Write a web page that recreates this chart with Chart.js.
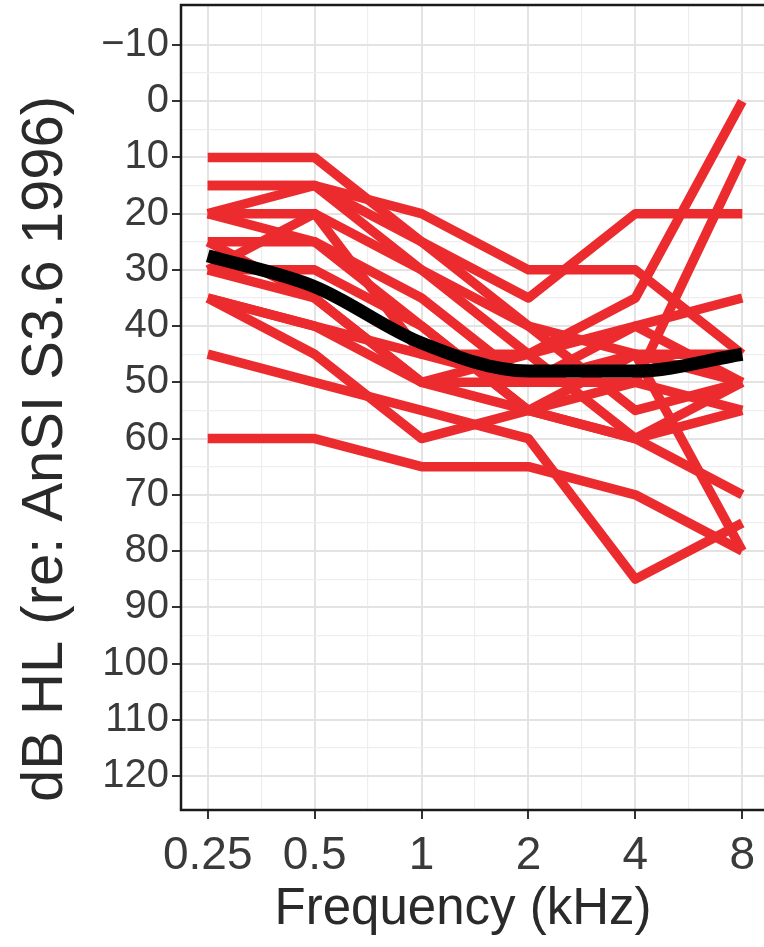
<!DOCTYPE html>
<html>
<head>
<meta charset="utf-8">
<script src="https://cdn.jsdelivr.net/npm/chart.js@4/dist/chart.umd.min.js"></script>
<style>
  html, body { margin: 0; padding: 0; background: #fff; overflow: hidden; }
  #wrap { width: 772px; height: 947px; }
</style>
</head>
<body>
<div id="wrap"><canvas id="audiogram" width="772" height="947"></canvas></div>
<script>
// Audiometric test frequencies (kHz), one octave apart
const freqLabels = ['0.25', '0.5', '1', '2', '4', '8'];
const octaveIndex = [0, 1, 2, 3, 4, 5];

// Hearing thresholds (dB HL) of individual listeners, per frequency
const listener01 = [10, 10, 25, 40, 55, 50];
const listener02 = [15, 15, 20, 30, 30, 45];
const listener03 = [15, 15, 25, 35, 20, 20];
const listener04 = [20, 15, 30, 45, 35, 0];
const listener05 = [25, 25, 35, 50, 50, 10];
const listener06 = [20, 25, 40, 55, 45, 80];
const listener07 = [30, 20, 45, 45, 60, 50];
const listener08 = [35, 40, 50, 45, 40, 35];
const listener09 = [35, 45, 60, 55, 60, 70];
const listener10 = [45, 50, 55, 60, 85, 75];
const listener11 = [60, 60, 65, 65, 70, 80];
const listener12 = [30, 35, 50, 55, 60, 55];
const listener13 = [35, 40, 45, 50, 45, 45];
const listener14 = [25, 35, 50, 50, 40, 50];
const listener15 = [30, 30, 40, 55, 50, 55];
const listener16 = [20, 20, 30, 40, 45, 50];

// Group mean threshold
const meanThreshold = [27.5, 33, 43, 48, 48, 45];

// Y axis ticks (dB HL), labelled every 10 dB with minor lines every 5 dB
const yTickValues = [];
for (let v = -10; v <= 120; v += 5) yTickValues.push(v);

const yAxisTitle = 'dB HL (re: AnSI S3.6 1996)';
const xAxisTitle = 'Frequency (kHz)';

const listeners = [listener01, listener02, listener03, listener04, listener05, listener06, listener07,
  listener08, listener09, listener10, listener11, listener12, listener13, listener14, listener15, listener16];

const toPoints = arr => octaveIndex.map((x, i) => ({ x: x, y: arr[i] }));

const RED = '#EC2B2E';
const FONT = "'Liberation Sans', Arial, Helvetica, sans-serif";

const datasets = [{
  label: 'Mean',
  data: toPoints(meanThreshold),
  borderColor: '#000000',
  borderWidth: 13,
  cubicInterpolationMode: 'monotone',
  pointRadius: 0,
  borderCapStyle: 'butt',
  borderJoinStyle: 'round',
  order: 0
}].concat(listeners.map((arr, k) => ({
  label: 'Listener ' + (k + 1),
  data: toPoints(arr),
  borderColor: RED,
  borderWidth: 9.5,
  tension: 0,
  pointRadius: 0,
  borderCapStyle: 'butt',
  borderJoinStyle: 'round',
  order: 1
})));

// Panel border around the plotting area, plus both axis titles
const panelDecor = {
  id: 'panelDecor',
  afterDraw(chart) {
    const a = chart.chartArea;
    const ctx = chart.ctx;
    ctx.save();
    ctx.strokeStyle = '#1a1a1a';
    ctx.lineWidth = 2.5;
    ctx.strokeRect(a.left, a.top, a.right - a.left, a.bottom - a.top);
    ctx.restore();

    // y axis title, rotated, reading bottom to top
    ctx.save();
    ctx.translate(46, a.bottom - 8);
    ctx.rotate(-Math.PI / 2);
    ctx.font = '58px ' + FONT;
    ctx.fillStyle = '#2a2a2a';
    ctx.textAlign = 'left';
    ctx.textBaseline = 'middle';
    ctx.fillText(yAxisTitle, 0, 0);
    ctx.restore();

    // x axis title
    ctx.save();
    ctx.font = '51px ' + FONT;
    ctx.fillStyle = '#2a2a2a';
    ctx.textAlign = 'center';
    ctx.textBaseline = 'middle';
    ctx.fillText(xAxisTitle, 463, 910);
    ctx.restore();
  }
};

new Chart(document.getElementById('audiogram'), {
  type: 'line',
  data: { datasets: datasets },
  plugins: [panelDecor],
  options: {
    responsive: false,
    animation: false,
    layout: { padding: { top: 5, right: 3, left: 0, bottom: 0 } },
    plugins: { legend: { display: false }, tooltip: { enabled: false } },
    scales: {
      x: {
        type: 'linear',
        min: -0.25,
        max: 5.25,
        afterBuildTicks: s => {
          const t = [];
          for (let v = 0; v <= 5; v += 0.5) t.push({ value: v });
          s.ticks = t;
        },
        afterFit: s => { s.height = 137; s.paddingLeft = 0; s.paddingRight = 0; },
        border: { display: false },
        grid: {
          color: c => Number.isInteger(c.tick.value) ? '#e3e3e3' : '#eeeeee',
          lineWidth: c => Number.isInteger(c.tick.value) ? 2 : 1.2,
          tickColor: c => Number.isInteger(c.tick.value) ? '#333333' : 'rgba(0,0,0,0)',
          tickLength: 9,
          tickWidth: 2
        },
        ticks: {
          autoSkip: false,
          maxRotation: 0,
          padding: 10,
          color: '#3a3a3a',
          font: { family: FONT, size: 46 },
          callback: v => Number.isInteger(v) ? freqLabels[v] : ''
        },
        title: { display: false }
      },
      y: {
        type: 'linear',
        reverse: true,
        min: -17.1,
        max: 126.05,
        afterBuildTicks: s => { s.ticks = yTickValues.map(v => ({ value: v })); },
        afterFit: s => { s.width = 181; s.paddingTop = 0; s.paddingBottom = 0; },
        border: { display: false },
        grid: {
          color: c => c.tick.value % 10 === 0 ? '#e3e3e3' : '#eeeeee',
          lineWidth: c => c.tick.value % 10 === 0 ? 2 : 1.2,
          tickColor: c => c.tick.value % 10 === 0 ? '#333333' : 'rgba(0,0,0,0)',
          tickLength: 9,
          tickWidth: 2
        },
        ticks: {
          autoSkip: false,
          padding: 3,
          color: '#3a3a3a',
          font: { family: FONT, size: 40 },
          callback: v => v % 10 === 0 ? (v < 0 ? '\u2212' + Math.abs(v) : String(v)) : ''
        },
        title: { display: false }
      }
    }
  }
});
</script>
</body>
</html>
